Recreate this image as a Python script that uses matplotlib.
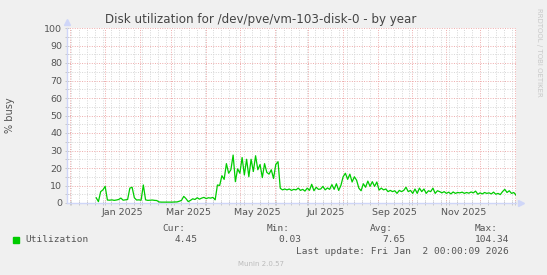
import matplotlib
matplotlib.use("Agg")
import matplotlib.pyplot as plt
import matplotlib.dates as mdates
import pandas as pd
from matplotlib.patches import Rectangle

START = "2024-12-24"
STEP = "2D"
util = [
    3.0, 0.8, 6.5, 7.5,                                   # late Dec 2024
    9.5, 1.7, 1.6, 1.8, 1.5, 1.7, 2.0, 2.8, 1.6, 1.8,     # Jan 2025
    2.0, 8.5, 9.0, 3.0, 1.7, 1.8,
    1.6, 10.3, 1.8, 1.5, 1.6, 1.7, 1.5, 1.4, 0.6, 0.5,    # Feb
    0.5, 0.5, 0.5, 0.5, 0.5, 0.6, 0.6, 1.0, 1.5, 3.8,     # Mar
    2.5, 0.8, 1.5, 2.4, 2.0, 3.0, 2.2, 2.8, 3.2, 2.5,
    3.0, 2.8, 3.2, 1.8, 10.3, 10.0, 15.6, 13.5, 22.5, 17,  # Apr
    19, 27.4, 12.2, 19.5, 17, 26, 16, 25, 15, 25,          # May
    18, 27, 19, 22, 14.5, 22.5, 17.5, 16.5, 19, 14,
    22, 23.6, 8.4, 7.5, 8.0, 7.5, 8.0, 7.2, 7.8, 7.5,      # Jun
    8.5, 7.2, 7.8, 6.8, 8.5, 7.2, 10.7, 7.0, 9.0, 7.8,     # Jul
    8.0, 9.5, 7.5, 8.6, 7.8, 10.5, 7.8, 11, 7.2, 10,
    15, 17, 13.5, 16.5, 12, 15, 13, 8.5, 7, 11,            # Aug
    9, 12.5, 9.5, 12.2, 9.5, 12, 7.4, 8.5, 7.5, 8,         # Sep
    6.5, 7.2, 6.5, 7, 5.5, 7.2, 6.5, 7.2, 9.0, 6.5,
    7.2, 5.5, 8, 5.5, 8.5, 6.5, 8, 5.5, 7, 6.5,            # Oct
    8.5, 5.5, 7, 6.5, 5.8, 6.5, 5.5, 6.2, 5.2, 6.3,
    5.5, 6.0, 5.8, 6.2, 5.5, 6.0, 5.6, 6.3, 5.8, 6.8,      # Nov
    5.0, 5.8, 5.2, 6.0, 5.5, 5.8, 5.2, 6.2, 5.0, 5.5,      # Dec
    4.8, 6.5, 7.8, 6.0, 7.0, 5.5, 6.0, 4.5,
]

X_START, X_END = "2024-11-28", "2026-01-02"
label_months = ["2025-01", "2025-03", "2025-05", "2025-07", "2025-09", "2025-11"]

stat_names = ["Cur:", "Min:", "Avg:", "Max:"]
stat_values = ["4.45", "0.03", "7.65", "104.34"]
last_update = "Last update: Fri Jan  2 00:00:09 2026"

BACK = "#f0f0f0"
FONT = "#555555"
AXIS = "#cfd6f8"
LINE = "#00cc00"
MONO = "DejaVu Sans Mono"

dates = pd.date_range(START, periods=len(util), freq=STEP)

fig = plt.figure(figsize=(5.47, 2.75), dpi=100, facecolor=BACK)
ax = fig.add_axes([67 / 547, 72 / 275, 449 / 547, 175 / 275])
ax.set_facecolor("white")

ax.plot(dates, util, color=LINE, lw=0.9, zorder=3)

ax.set_xlim(pd.Timestamp(X_START), pd.Timestamp(X_END))
ax.set_ylim(0, 100)

# grid: pink dotted majors (months / tens), grey dotted minors (weeks / fives)
ax.xaxis.set_major_locator(mdates.MonthLocator())
ax.xaxis.set_minor_locator(mdates.WeekdayLocator(byweekday=mdates.MO))
ax.xaxis.set_major_formatter(plt.NullFormatter())
ax.set_yticks(range(0, 101, 10))
ax.set_yticks(range(5, 100, 10), minor=True)
ax.grid(which="major", color="#eeaaaa", ls=(0, (1, 1.5)), lw=0.7)
ax.grid(which="minor", color="#d6d6d6", ls=(0, (1, 1.5)), lw=0.7)
ax.set_axisbelow(True)

ax.tick_params(axis="both", which="both", direction="inout", color="#c0c0c0",
               length=3, width=0.6, labelcolor=FONT)
ax.tick_params(axis="y", labelsize=6.8, pad=2)

for s in ("top", "right"):
    ax.spines[s].set_visible(False)
for s in ("left", "bottom"):
    ax.spines[s].set_color(AXIS)
    ax.spines[s].set_linewidth(1.0)

# axis arrows
ax.plot([0], [1.035], marker="^", ms=4, color=AXIS, transform=ax.transAxes, clip_on=False)
ax.plot([1.012], [0], marker=">", ms=4, color=AXIS, transform=ax.transAxes, clip_on=False)

# month labels, centred in the middle of the month
xtr = ax.get_xaxis_transform()
for m in label_months:
    start = pd.Timestamp(m + "-01")
    mid = start + pd.Timedelta(days=start.days_in_month / 2)
    ax.text(mid, -0.052, start.strftime("%b %Y"), transform=xtr, ha="center", va="center",
            fontsize=6.8, color=FONT)

fig.text(261 / 547, 1 - 19 / 275, "Disk utilization for /dev/pve/vm-103-disk-0 - by year",
         ha="center", va="center", fontsize=8.6, color="#444444")
fig.text(10 / 547, 1 - 115 / 275, "% busy", rotation=90, ha="center", va="center",
         fontsize=7, color=FONT)
fig.text(539 / 547, 1 - 52 / 275, "RRDTOOL / TOBI OETIKER", rotation=270, ha="center",
         va="center", fontsize=5, color="#c8c8c8")

# legend block
fig.patches.append(Rectangle((13 / 547, 1 - 243 / 275), 6 / 547, 6 / 275,
                             transform=fig.transFigure, color=LINE))
fig.text(25 / 547, 1 - 239.5 / 275, "Utilization", ha="left", va="center",
         family=MONO, fontsize=6.8, color=FONT)
name_right = [185, 289.5, 392.5, 497.5]
value_right = [197.5, 301.5, 405, 509]
for name, val, xn, xv in zip(stat_names, stat_values, name_right, value_right):
    fig.text(xn / 547, 1 - 228.5 / 275, name, ha="right", va="center",
             family=MONO, fontsize=6.8, color=FONT)
    fig.text(xv / 547, 1 - 239.5 / 275, val, ha="right", va="center",
             family=MONO, fontsize=6.8, color=FONT)
fig.text(509 / 547, 1 - 251 / 275, last_update, ha="right", va="center",
         family=MONO, fontsize=6.8, color=FONT)
fig.text(260.5 / 547, 1 - 264 / 275, "Munin 2.0.57", ha="center", va="center",
         fontsize=5, color="#bbbbbb")

fig.savefig("out.png", dpi=100, facecolor=BACK)
